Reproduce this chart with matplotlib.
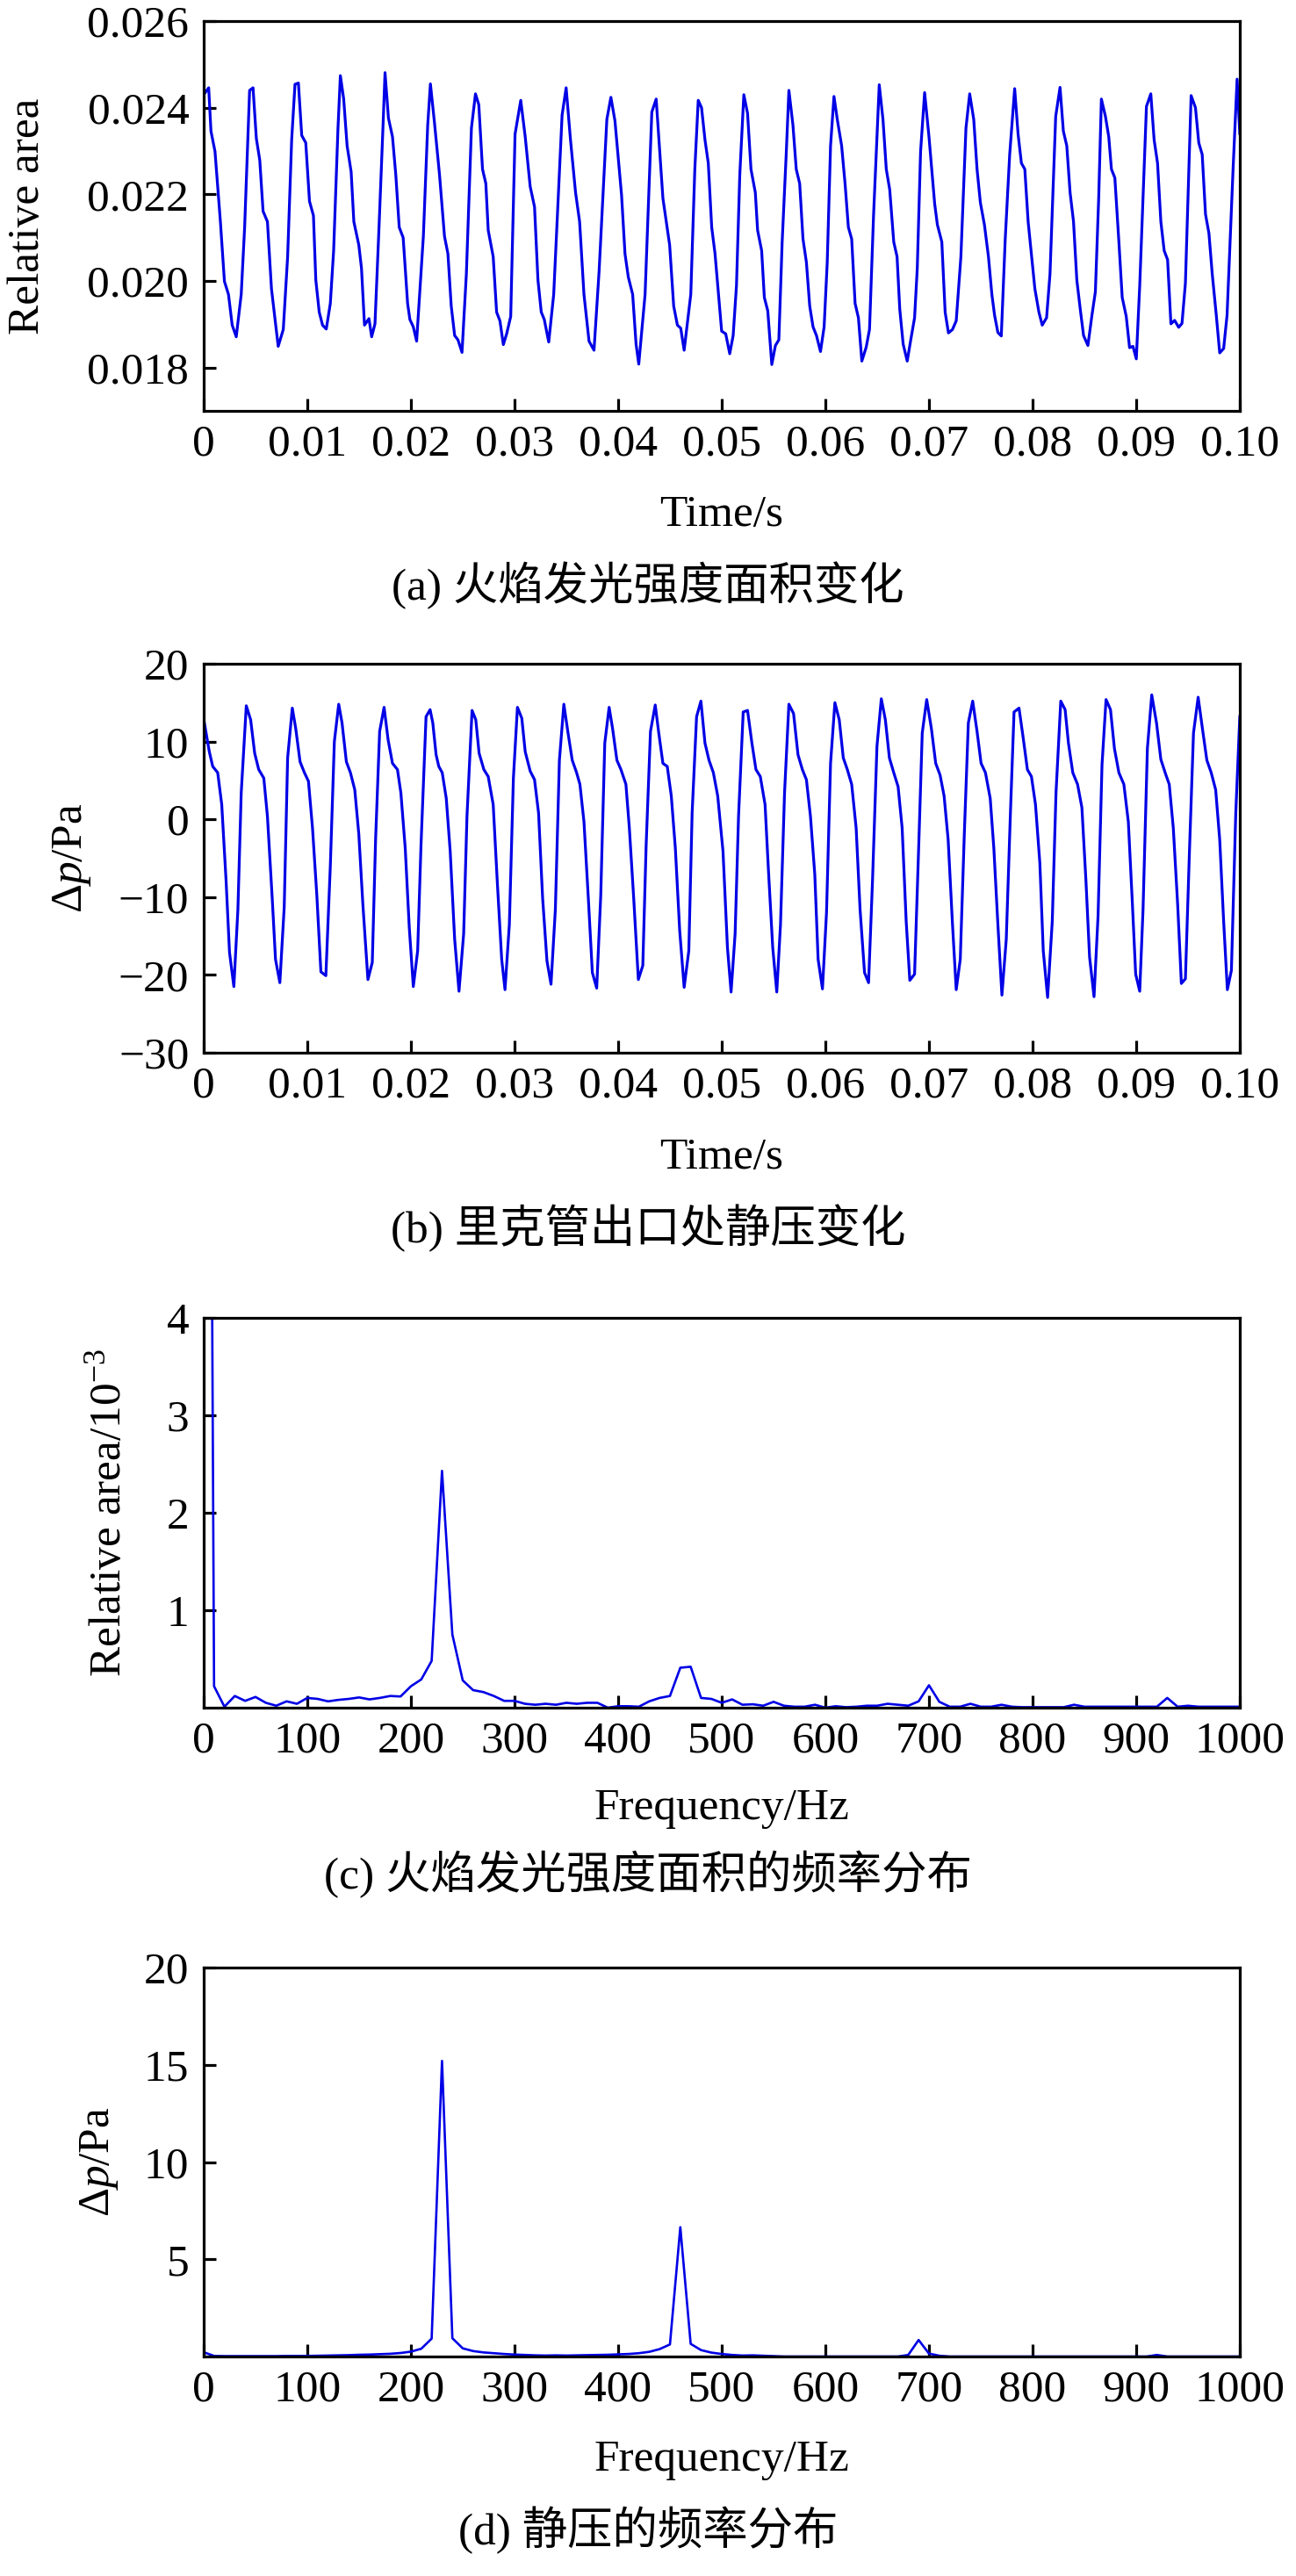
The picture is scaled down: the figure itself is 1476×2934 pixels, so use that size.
import numpy as np
import matplotlib
matplotlib.use('Agg')
import matplotlib.pyplot as plt

plt.rcParams['font.family'] = ['Liberation Serif', 'Noto Sans CJK SC']
plt.rcParams['mathtext.fontset'] = 'custom'
plt.rcParams['mathtext.rm'] = 'Liberation Serif'
plt.rcParams['mathtext.it'] = 'Liberation Serif:italic'
plt.rcParams['axes.unicode_minus'] = True

# (a) relative area of flame luminosity, time in ms, value in 1e-3
t_a = [0.00, 0.48, 0.70, 1.09, 1.61, 2.00, 2.39, 2.75, 3.14, 3.62, 3.95, 4.43, 4.76, 5.08, 5.41, 5.73,
       6.15, 6.54, 7.19, 7.68, 8.10, 8.49, 8.81, 9.14, 9.46, 9.85, 10.21, 10.59, 10.82, 11.15, 11.47,
       11.83, 12.22, 12.54, 12.96, 13.19, 13.51, 13.84, 14.23, 14.49, 14.97, 15.23, 15.52, 15.95, 16.21,
       16.53, 16.92, 17.31, 17.50, 17.83, 18.22, 18.54, 18.87, 19.25, 19.68, 19.90, 20.23, 20.55, 21.20,
       21.62, 21.88, 22.27, 22.76, 23.24, 23.57, 23.89, 24.22, 24.54, 24.93, 25.35, 25.84, 26.23, 26.55,
       26.91, 27.23, 27.46, 27.94, 28.27, 28.59, 28.92, 29.24, 29.63, 30.05, 30.60, 31.03, 31.51, 31.93,
       32.26, 32.58, 32.87, 33.30, 33.78, 34.59, 34.98, 35.40, 35.89, 36.28, 36.70, 37.19, 37.67, 38.16,
       38.91, 39.30, 39.69, 40.33, 40.66, 40.98, 41.40, 41.73, 41.99, 42.60, 43.25, 43.67, 44.32, 44.97,
       45.36, 45.72, 46.04, 46.37, 47.01, 47.40, 47.73, 48.05, 48.38, 48.70, 49.03, 49.35, 49.99, 50.38,
       50.77, 51.10, 51.42, 51.74, 52.13, 52.49, 52.82, 53.24, 53.46, 53.85, 54.11, 54.44, 54.83, 55.18,
       55.51, 55.83, 56.22, 56.48, 56.87, 57.19, 57.52, 57.84, 58.17, 58.49, 58.81, 59.14, 59.53, 59.88,
       60.18, 60.50, 60.83, 61.15, 61.57, 61.90, 62.22, 62.54, 62.87, 63.19, 63.52, 63.94, 64.26, 64.65,
       65.20, 65.56, 65.88, 66.21, 66.60, 66.92, 67.18, 67.51, 67.90, 68.22, 68.61, 68.87, 69.19, 69.58,
       70.00, 70.55, 70.81, 71.24, 71.56, 71.88, 72.27, 72.63, 73.08, 73.57, 73.93, 74.32, 74.64, 74.96,
       75.35, 75.74, 76.07, 76.33, 76.65, 76.98, 77.36, 77.79, 78.27, 78.60, 78.92, 79.25, 79.57, 79.96,
       80.22, 80.61, 80.93, 81.35, 81.68, 82.23, 82.65, 82.97, 83.30, 83.62, 83.95, 84.27, 84.60, 84.92,
       85.34, 85.73, 86.06, 86.38, 86.64, 87.03, 87.35, 87.61, 87.94, 88.33, 88.65, 89.04, 89.36, 89.69,
       90.01, 90.34, 90.99, 91.41, 91.73, 92.06, 92.38, 92.70, 93.03, 93.35, 93.71, 94.10, 94.42, 94.75,
       95.30, 95.72, 96.04, 96.37, 96.69, 97.02, 97.34, 97.73, 98.06, 98.44, 98.77, 99.35, 99.74, 100.0]
area_a = [24.30, 24.46, 23.46, 22.99, 21.37, 19.99, 19.69, 18.98, 18.71, 19.69, 21.24, 24.40, 24.46, 23.29,
          22.79, 21.61, 21.37, 19.82, 18.49, 18.88, 20.56, 23.26, 24.54, 24.57, 23.36, 23.19, 21.84, 21.51,
          20.02, 19.28, 18.98, 18.89, 19.48, 20.70, 23.53, 24.74, 24.20, 23.12, 22.52, 21.37, 20.83, 20.29,
          18.98, 19.13, 18.71, 19.01, 21.24, 23.60, 24.81, 23.76, 23.33, 22.45, 21.24, 21.00, 19.48, 19.11,
          18.94, 18.61, 21.03, 23.60, 24.55, 23.66, 22.45, 21.03, 20.63, 19.42, 18.74, 18.64, 18.35, 20.16,
          23.53, 24.32, 24.07, 22.58, 22.25, 21.17, 20.56, 19.28, 19.08, 18.53, 18.78, 19.18, 23.39, 24.17,
          23.33, 22.18, 21.71, 20.02, 19.28, 19.11, 18.59, 19.69, 23.83, 24.46, 23.26, 22.04, 21.37, 19.69,
          18.61, 18.40, 20.22, 23.73, 24.24, 23.70, 21.98, 20.63, 20.09, 19.69, 18.54, 18.08, 19.69, 23.90,
          24.20, 21.91, 20.83, 19.42, 18.98, 18.91, 18.40, 19.69, 22.58, 24.17, 24.00, 23.26, 22.72, 21.24,
          20.63, 18.84, 18.78, 18.32, 18.74, 19.89, 22.45, 24.30, 23.87, 22.58, 22.04, 21.17, 20.70, 19.62,
          19.31, 18.07, 18.51, 18.64, 20.90, 22.92, 24.40, 23.60, 22.58, 22.25, 20.97, 20.43, 19.42, 18.94,
          18.74, 18.37, 18.94, 20.43, 23.12, 24.26, 23.73, 23.12, 22.25, 21.24, 20.97, 19.48, 19.15, 18.15,
          18.47, 18.88, 21.51, 24.53, 23.73, 22.58, 22.11, 20.90, 20.56, 19.35, 18.54, 18.15, 18.61, 19.15,
          20.29, 22.99, 24.35, 23.33, 21.78, 21.30, 20.90, 19.28, 18.80, 18.88, 19.08, 20.56, 23.53, 24.32,
          23.73, 22.58, 21.81, 21.30, 20.56, 19.69, 19.21, 18.81, 18.73, 20.97, 22.92, 24.44, 23.39, 22.72,
          22.58, 21.37, 20.43, 19.82, 19.28, 18.98, 19.15, 20.16, 23.80, 24.47, 23.46, 23.12, 22.04, 21.37,
          20.02, 19.35, 18.74, 18.51, 19.21, 19.75, 21.91, 24.20, 23.80, 23.33, 22.58, 22.38, 20.90, 19.62,
          19.18, 18.46, 18.49, 18.20, 19.89, 24.03, 24.32, 23.26, 22.72, 21.37, 20.70, 20.49, 19.01, 19.09,
          18.93, 19.02, 19.95, 24.28, 24.00, 23.19, 22.92, 21.54, 21.10, 20.16, 19.21, 18.34, 18.44, 19.21,
          22.58, 24.66, 23.40]

# (b) static pressure at the Rijke tube exit, time in ms, Pa
t_b = [0.00, 0.54, 0.87, 1.35, 1.74, 2.16, 2.49, 2.91, 3.30, 3.62, 4.11, 4.53, 4.92, 5.31, 5.80, 6.15,
       6.61, 6.93, 7.35, 7.77, 8.10, 8.55, 8.88, 9.30, 9.72, 10.11, 10.50, 10.92, 11.31, 11.79, 12.22,
       12.61, 13.03, 13.35, 13.77, 14.16, 14.58, 14.97, 15.36, 15.85, 16.27, 16.59, 16.98, 17.41, 17.80,
       18.22, 18.70, 19.03, 19.45, 19.84, 20.23, 20.65, 20.97, 21.46, 21.85, 22.11, 22.43, 22.69, 23.02,
       23.41, 23.79, 24.22, 24.64, 25.09, 25.41, 25.90, 26.26, 26.58, 27.04, 27.46, 27.94, 28.33, 28.76,
       29.08, 29.50, 29.89, 30.28, 30.70, 31.03, 31.51, 31.93, 32.32, 32.71, 33.13, 33.52, 33.94, 34.33,
       34.76, 35.14, 35.57, 35.99, 36.31, 36.70, 37.12, 37.51, 37.93, 38.32, 38.71, 39.13, 39.46, 39.88,
       40.27, 40.75, 41.08, 41.50, 41.95, 42.38, 42.70, 43.12, 43.58, 43.90, 44.32, 44.74, 45.13, 45.52,
       45.94, 46.37, 46.82, 47.14, 47.57, 47.99, 48.38, 48.77, 49.19, 49.61, 50.12, 50.55, 50.90, 51.29,
       51.62, 52.07, 52.49, 52.91, 53.30, 53.72, 54.18, 54.50, 54.92, 55.31, 55.67, 56.06, 56.48, 56.93,
       57.36, 57.78, 58.17, 58.56, 58.98, 59.30, 59.72, 60.11, 60.50, 60.92, 61.34, 61.73, 62.12, 62.54,
       62.97, 63.35, 63.78, 64.17, 64.55, 64.98, 65.40, 65.79, 66.18, 66.60, 67.02, 67.41, 67.80, 68.15,
       68.61, 69.03, 69.35, 69.78, 70.23, 70.65, 71.07, 71.46, 71.85, 72.27, 72.63, 73.02, 73.41, 73.80,
       74.22, 74.64, 75.03, 75.45, 75.91, 76.26, 76.65, 77.04, 77.46, 77.85, 78.21, 78.69, 79.08, 79.50,
       79.89, 80.28, 80.70, 81.03, 81.45, 81.90, 82.26, 82.72, 83.14, 83.46, 83.88, 84.34, 84.76, 85.15,
       85.50, 85.93, 86.32, 86.70, 87.09, 87.52, 87.90, 88.33, 88.81, 89.24, 89.62, 89.95, 90.34, 90.66,
       91.08, 91.50, 91.96, 92.38, 92.87, 93.19, 93.58, 94.00, 94.36, 94.75, 95.14, 95.53, 95.98, 96.43,
       96.82, 97.24, 97.67, 98.06, 98.44, 98.80, 99.19, 99.61, 100.0]
dp_b = [12.9, 8.7, 6.8, 6.0, 1.9, -7.9, -17.1, -21.5, -11.6, 3.4, 14.6, 12.8, 8.5, 6.4, 5.3, 0.4, -10.1,
        -18.0, -21.0, -11.3, 7.9, 14.3, 11.7, 7.4, 6.0, 4.9, -1.1, -9.8, -19.6, -20.1, -6.0, 10.0, 14.8,
        12.4, 7.4, 6.0, 3.8, -1.9, -10.9, -20.6, -18.4, -2.6, 11.3, 14.4, 10.2, 7.2, 6.4, 3.4, -3.7, -13.9,
        -21.5, -16.9, -3.4, 13.2, 14.1, 12.4, 8.3, 6.8, 6.0, 2.7, -4.1, -15.4, -22.1, -14.7, 0.4, 14.0,
        12.8, 8.5, 6.4, 5.5, 1.9, -7.9, -18.0, -21.9, -13.5, 5.3, 14.4, 13.0, 8.7, 6.2, 5.1, 0.8, -10.1,
        -18.2, -21.2, -11.6, 7.6, 14.8, 11.3, 7.6, 6.0, 4.5, -0.3, -10.1, -19.7, -21.7, -9.8, 9.8, 14.4,
        11.7, 7.6, 6.4, 4.5, -1.1, -10.1, -20.6, -18.8, -3.4, 11.3, 14.7, 11.3, 7.2, 6.8, 3.0, -3.7, -14.3,
        -21.6, -16.9, 0.8, 13.2, 15.2, 9.8, 7.6, 6.0, 3.0, -4.1, -16.5, -22.2, -14.7, 0.4, 13.8, 14.0, 9.8,
        6.4, 5.5, 1.9, -6.4, -16.5, -22.2, -13.5, 3.4, 14.8, 13.6, 8.3, 6.4, 5.1, 0.4, -7.1, -18.0, -21.8,
        -12.0, 7.2, 15.0, 12.8, 7.9, 6.4, 4.5, -1.1, -11.6, -19.7, -21.0, -7.9, 9.4, 15.5, 12.8, 7.9, 6.0,
        4.2, -1.1, -13.1, -20.7, -19.9, -2.6, 11.1, 15.4, 11.7, 7.2, 5.7, 3.0, -2.6, -13.5, -21.9, -18.0,
        -1.9, 12.4, 15.2, 11.3, 7.2, 6.0, 2.7, -3.7, -13.5, -22.6, -15.4, 0.4, 13.8, 14.3, 10.6, 6.4, 5.5,
        1.9, -5.6, -16.9, -22.9, -13.1, 3.4, 15.2, 14.1, 9.8, 6.0, 4.5, 1.5, -7.9, -17.7, -22.8, -12.4, 7.0,
        15.4, 14.1, 9.1, 6.0, 4.5, -0.3, -10.5, -19.9, -22.1, -11.6, 9.1, 16.0, 12.4, 7.7, 5.7, 4.5, -1.1,
        -10.9, -21.1, -20.5, -4.1, 11.1, 15.7, 11.3, 7.6, 6.0, 3.8, -2.6, -13.1, -21.9, -19.4, 0.8, 13.2]

# (c), (d) spectra on a 10 Hz grid, 0 ... 1000 Hz
freq = list(range(0, 1001, 10))
spec_c = [21.3, 0.22, 0.01, 0.12, 0.07, 0.11, 0.05, 0.02, 0.065, 0.04,
          0.10, 0.09, 0.065, 0.08, 0.09, 0.105, 0.085, 0.10, 0.12, 0.115,
          0.22, 0.29, 0.48, 2.43, 0.75, 0.28, 0.18, 0.16, 0.12, 0.07,
          0.07, 0.04, 0.03, 0.04, 0.03, 0.05, 0.04, 0.05, 0.05, 0.0,
          0.015, 0.015, 0.01, 0.065, 0.10, 0.12, 0.41, 0.42, 0.10, 0.09,
          0.05, 0.085, 0.03, 0.035, 0.02, 0.06, 0.02, 0.01, 0.01, 0.03,
          0.0, 0.015, 0.005, 0.01, 0.02, 0.02, 0.04, 0.03, 0.02, 0.065,
          0.23, 0.06, 0.01, 0.01, 0.04, 0.01, 0.01, 0.03, 0.01, 0.005,
          0.005, 0.005, 0.005, 0.005, 0.03, 0.01, 0.01, 0.01, 0.01, 0.01,
          0.01, 0.01, 0.01, 0.10, 0.01, 0.02, 0.01, 0.01, 0.01, 0.01,
          0.01]
spec_d = [0.22, 0.03, 0.02, 0.02, 0.02, 0.02, 0.02, 0.02, 0.03, 0.03,
          0.03, 0.04, 0.05, 0.06, 0.07, 0.09, 0.10, 0.12, 0.14, 0.18,
          0.25, 0.40, 0.92, 15.2, 0.94, 0.42, 0.28, 0.21, 0.17, 0.13,
          0.10, 0.08, 0.06, 0.05, 0.06, 0.05, 0.06, 0.07, 0.08, 0.09,
          0.11, 0.13, 0.17, 0.24, 0.38, 0.62, 6.65, 0.65, 0.33, 0.20,
          0.13, 0.08, 0.05, 0.06, 0.04, 0.02, 0.0, 0.0, 0.0, 0.0,
          0.0, 0.0, 0.0, 0.0, 0.0, 0.0, 0.0, 0.0, 0.08, 0.85,
          0.15, 0.04, 0.0, 0.0, 0.0, 0.0, 0.0, 0.0, 0.0, 0.0,
          0.0, 0.0, 0.0, 0.0, 0.0, 0.0, 0.0, 0.0, 0.0, 0.0,
          0.0, 0.0, 0.08, 0.0, 0.0, 0.0, 0.0, 0.0, 0.0, 0.0,
          0.0]

time_ticks = [0, 0.01, 0.02, 0.03, 0.04, 0.05, 0.06, 0.07, 0.08, 0.09, 0.10]
time_labels = ['0', '0.01', '0.02', '0.03', '0.04', '0.05', '0.06', '0.07', '0.08', '0.09', '0.10']
freq_ticks = list(range(0, 1001, 100))

captions = ['(a) 火焰发光强度面积变化', '(b) 里克管出口处静压变化',
            '(c) 火焰发光强度面积的频率分布', '(d) 静压的频率分布']

W, H = 1476, 2934
FS = 37
LINE = '#0000E6'

fig = plt.figure(figsize=(W / 100, H / 100), dpi=100)


def px_axes(top, bottom, left=232, right=1412):
    return fig.add_axes([left / W, 1 - bottom / H, (right - left) / W, (bottom - top) / H])


def put(x, y, s, **kw):
    fig.text(x / W, 1 - y / H, s, ha='center', va='center', fontsize=FS, **kw)


def style(ax):
    for sp in ax.spines.values():
        sp.set_linewidth(2.3)
    ax.tick_params(direction='in', length=10, width=2.3, labelsize=FS,
                   top=False, right=False, pad=11)
    ax.tick_params(axis='y', pad=12)


# (a)
ax = px_axes(24, 468)
ax.plot(np.array(t_a) / 1000, np.array(area_a) / 1000, color=LINE, lw=2.3)
ax.set_xlim(0, 0.10)
ax.set_ylim(0.017, 0.026)
ax.set_yticks([0.018, 0.020, 0.022, 0.024, 0.026])
ax.set_yticklabels(['0.018', '0.020', '0.022', '0.024', '0.026'])
ax.set_xticks(time_ticks)
ax.set_xticklabels(time_labels)
style(ax)
put(32, 246, 'Relative area', rotation=90)
put(822, 587, 'Time/s')
put(W / 2, 667, captions[0])

# (b)
ax = px_axes(756, 1199)
ax.plot(np.array(t_b) / 1000, dp_b, color=LINE, lw=2.3)
ax.set_xlim(0, 0.10)
ax.set_ylim(-30, 20)
ax.set_yticks([-30, -20, -10, 0, 10, 20])
ax.set_xticks(time_ticks)
ax.set_xticklabels(time_labels)
style(ax)
put(82, 977, r'Δ$p$/Pa', rotation=90)
put(822, 1319, 'Time/s')
put(W / 2, 1399, captions[1])

# (c)
ax = px_axes(1501, 1945)
ax.plot(freq, spec_c, color=LINE, lw=1.9)
ax.set_xlim(0, 1000)
ax.set_ylim(0, 4)
ax.set_yticks([1, 2, 3, 4])
ax.set_xticks(freq_ticks)
style(ax)
put(125, 1723, r'Relative area/10$^{-3}$', rotation=90)
put(822, 2060, 'Frequency/Hz')
put(W / 2, 2135, captions[2])

# (d)
ax = px_axes(2241, 2684)
ax.plot(freq, spec_d, color=LINE, lw=1.9)
ax.set_xlim(0, 1000)
ax.set_ylim(0, 20)
ax.set_yticks([5, 10, 15, 20])
ax.set_xticks(freq_ticks)
style(ax)
put(113, 2462, r'Δ$p$/Pa', rotation=90)
put(822, 2802, 'Frequency/Hz')
put(W / 2, 2882, captions[3])

fig.savefig('out.png', dpi=100)
